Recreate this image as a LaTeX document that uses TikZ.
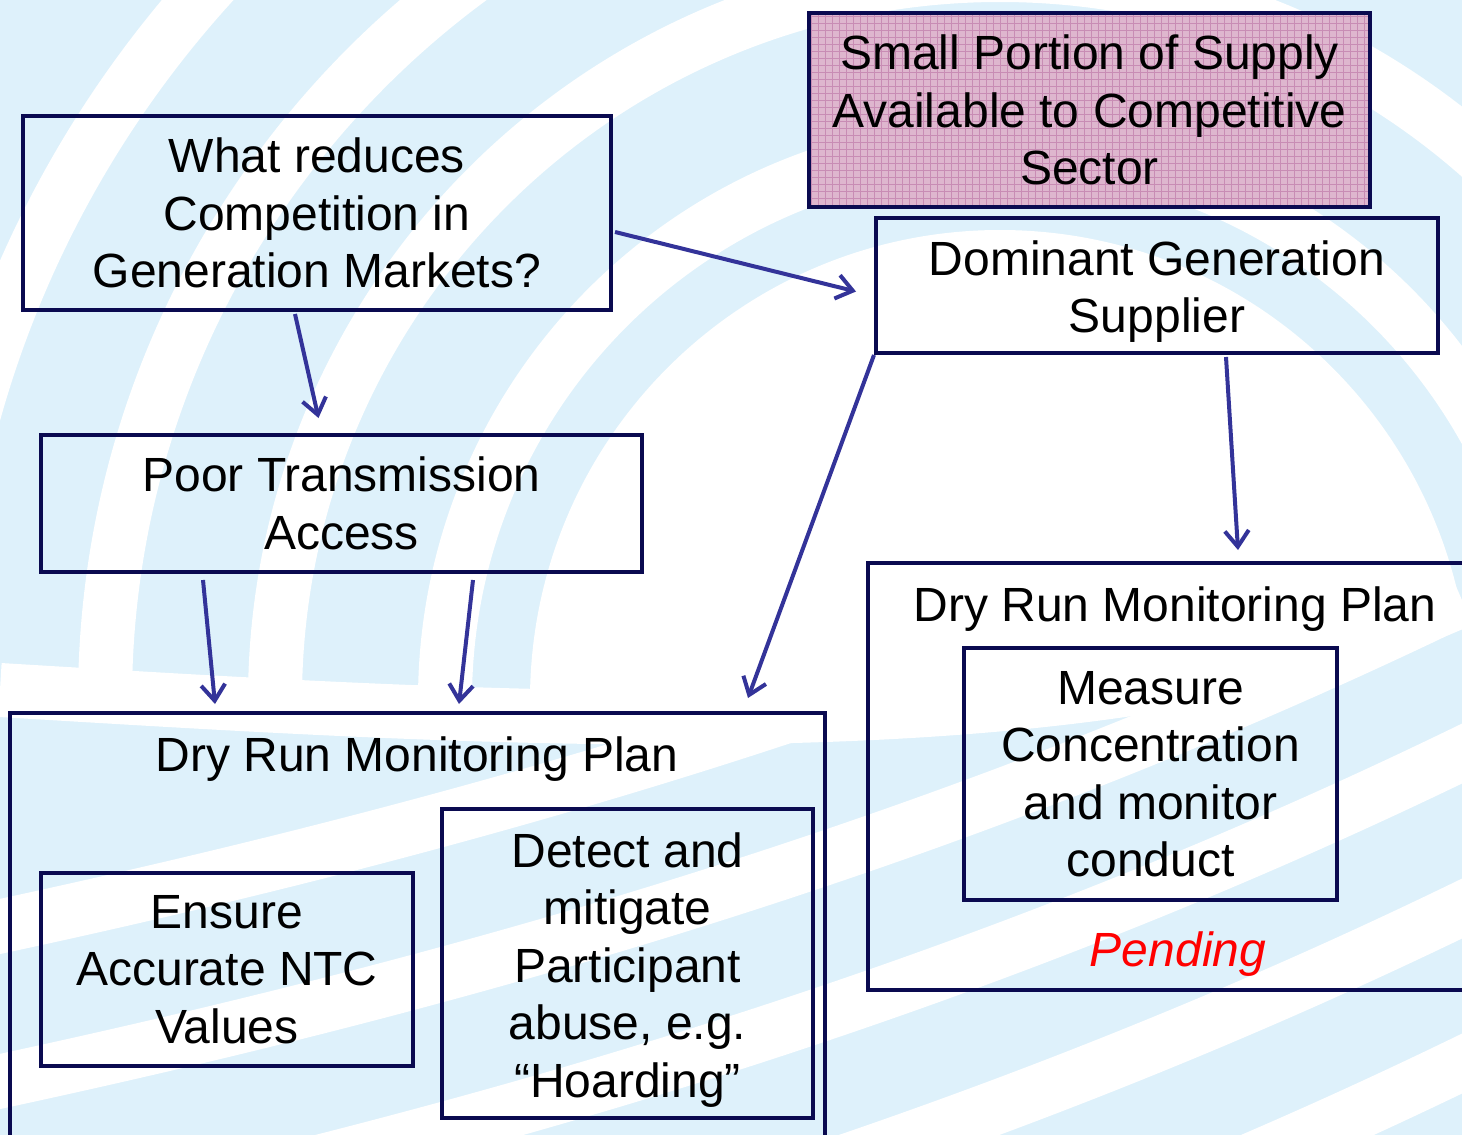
\documentclass[tikz,border=0pt]{standalone}
\usepackage{fontspec}
\setmainfont{Liberation Sans}
\usetikzlibrary{calc, arrows.meta}

\definecolor{navyline}{RGB}{10,10,80}
\definecolor{flowblue}{RGB}{51,51,153}
\definecolor{swirlblue}{RGB}{222,241,251}
\definecolor{pinkfill}{RGB}{222,182,206}
\definecolor{pinkgrid}{RGB}{200,140,180}
\definecolor{pendred}{RGB}{255,0,0}

\tikzset{
  box/.style={draw=navyline, line width=2pt, align=center, inner sep=0pt,
    font=\fontsize{24}{28.75}\selectfont},
  title/.style={anchor=base, inner sep=0pt, font=\fontsize{24}{28.75}\selectfont},
  flow/.style={draw=flowblue, line width=2pt,
    -{Straight Barb[length=8pt, width=12pt, line width=2pt]}},
  band/.style={draw=white, line width=27pt},
}

\begin{document}
\begin{tikzpicture}[x=0.5pt,y=-0.5pt]
  % slide area
  \useasboundingbox (0,0) rectangle (1462,1135);
  \clip (0,0) rectangle (1462,1135);

  % Background: swirl
  \fill[swirlblue] (0,0) rectangle (1462,1135);
  \begin{scope}
    \clip (0,0) -- (1462,0) -- (1462,600) .. controls (1100,760) and (500,720) .. (0,690) -- cycle;
    \fill[white] (1000,700) circle [radius=235pt];
    \foreach \r in {555,725,895,1065}
      \draw[band] (1000,700) circle [radius={\r*0.5pt}];
  \end{scope}
  \begin{scope}
    \clip (0,690) .. controls (500,720) and (1100,760) .. (1462,600) -- (1462,1135) -- (0,1135) -- cycle;
    \foreach \y in {935,1090,1245,1400,1555,1710}
      \draw[band] (-40,\y) .. controls (480,\y-110) and (1000,\y-260) .. (1520,\y-520);
  \end{scope}
  \draw[band] (0,690) .. controls (500,720) and (1100,760) .. (1462,600);

  % Shape: top boxes
  \node[box, minimum width=294pt, minimum height=97pt] (whatbox) at (317,213)
    {What reduces\\Competition in\\Generation Markets?};
  \node[box, fill=pinkfill, minimum width=280.5pt, minimum height=97pt,
    path picture={\draw[pinkgrid, line width=0.4pt, step=3.5pt]
      (path picture bounding box.south west) grid (path picture bounding box.north east);}]
    (supplybox) at (1089.5,110)
    {Small Portion of Supply\\Available to Competitive\\Sector};
  \node[box, minimum width=281pt, minimum height=67.5pt] (dominantbox) at (1157,285.5)
    {\rule{0pt}{23.5pt}Dominant Generation\\Supplier};
  \node[box, minimum width=300.5pt, minimum height=68.5pt] (poorbox) at (341.5,503.5)
    {Poor Transmission\\Access};

  % Shape: left plan
  \node[box, minimum width=407.5pt, minimum height=223.5pt] (leftplan) at (417.5,936.5) {};
  \node[title] (lefttitle) at (417,771) {Dry Run Monitoring Plan};
  \node[box, minimum width=186pt, minimum height=96.5pt] (ensurebox) at (227,969.5)
    {Ensure\\Accurate NTC\\Values};
  \node[box, minimum width=185.5pt, minimum height=154.5pt] (detectbox) at (627.5,963.5)
    {\rule{0pt}{23.5pt}Detect and\\mitigate\\Participant\\abuse, e.g.\\“Hoarding”};

  % Shape: right plan
  \node[box, minimum width=311pt, minimum height=213.5pt] (rightplan) at (1179,776.5) {};
  \node[title] (righttitle) at (1175,621) {Dry Run Monitoring Plan};
  \node[box, minimum width=186.5pt, minimum height=126pt] (measurebox) at (1150.5,774)
    {Measure\\Concentration\\and monitor\\conduct};
  \node[title, text=pendred, font=\fontsize{24}{28.75}\selectfont\itshape] (pending) at (1178,966) {Pending};

  % Arrows
  \draw[flow] ($(whatbox.south)+(-22,2)$) -- ($(poorbox.north)+(-23,-15)$);
  \draw[flow] ($(whatbox.east)+(2,19)$) -- ($(dominantbox.west)+(-18,6)$);
  \draw[flow] ($(dominantbox.south)+(69,2)$) -- ($(rightplan.north)+(59,-11)$);
  \draw[flow] (dominantbox.south west) -- ($(leftplan.north east)+(-79,-13)$);
  \draw[flow] ($(poorbox.south)+(-138.5,6)$) -- ($(leftplan.north)+(-202.5,-7)$);
  \draw[flow] ($(poorbox.south)+(131.5,6)$) -- ($(leftplan.north)+(41.5,-7)$);
\end{tikzpicture}
\end{document}
